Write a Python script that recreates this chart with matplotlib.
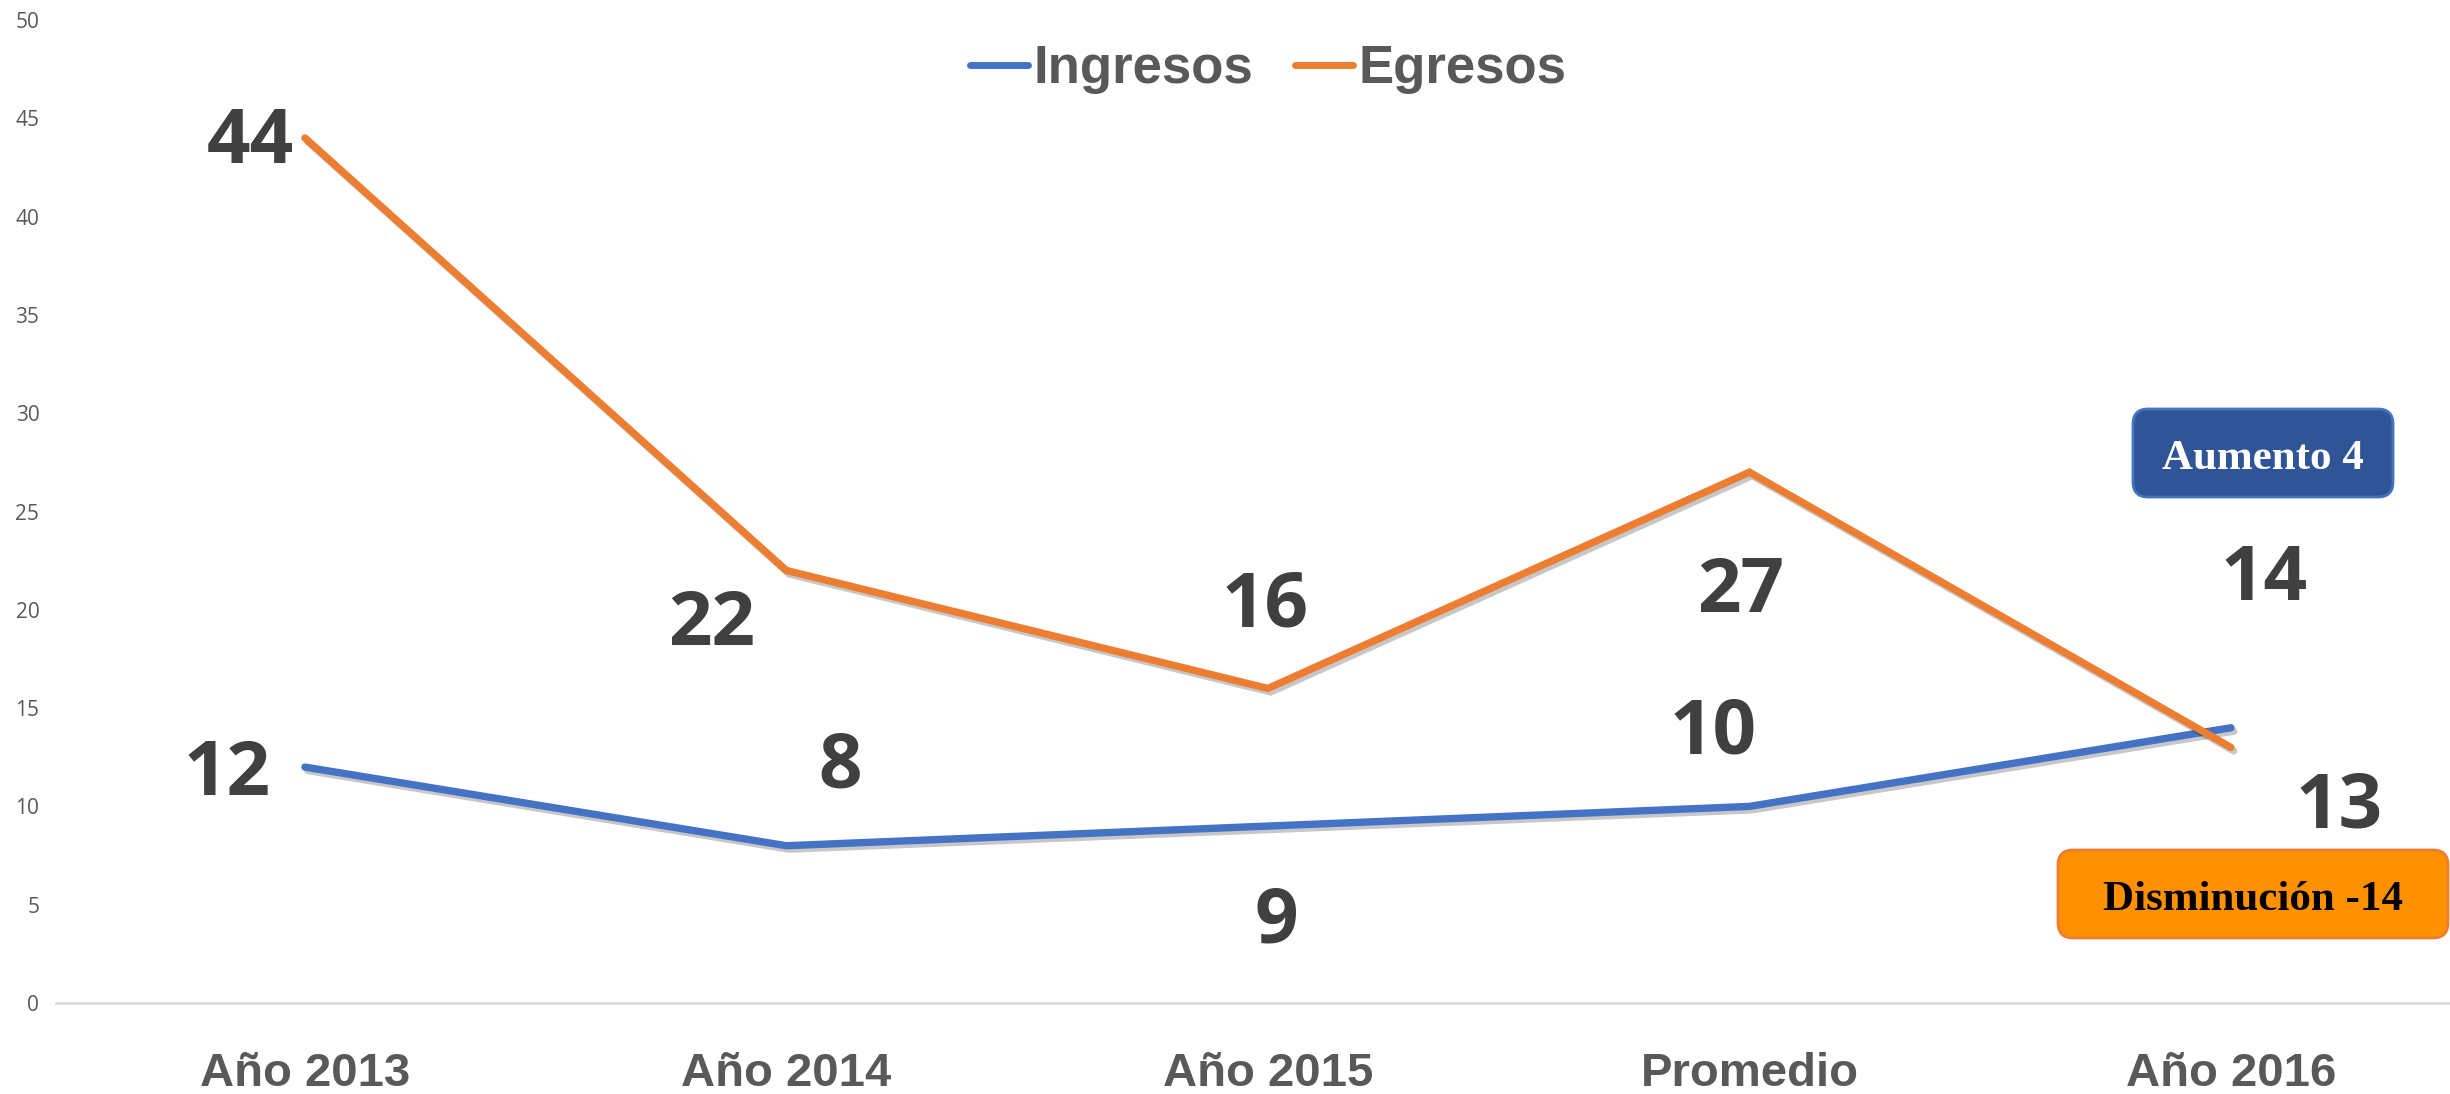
import matplotlib.pyplot as plt
import matplotlib.patheffects as pe
from matplotlib.lines import Line2D
from matplotlib.patches import FancyBboxPatch

categorias = ["Año 2013", "Año 2014", "Año 2015", "Promedio", "Año 2016"]
ingresos = [12, 8, 9, 10, 14]
egresos = [44, 22, 16, 27, 13]
y_ticks = [0, 5, 10, 15, 20, 25, 30, 35, 40, 45, 50]

# where Excel left each data label (pixels from the point)
off_ing = [(-78, -8), (54, 78), (8, -97), (-36, 72), (33, 147)]
off_egr = [(-55, -6), (-75, -55), (-3, 81), (-9, -120), (108, -61)]

AZUL = "#4472C4"
NARANJA = "#ED7D31"
GRIS = "#595959"
ETIQ = "#404040"

fig = plt.figure(figsize=(24.5, 10.94), dpi=100)
ax = fig.add_axes([56 / 2450, 1 - 1003 / 1094, (2450 - 56) / 2450, (1003 - 20) / 1094])

x = list(range(len(categorias)))
sombra = [pe.SimpleLineShadow(offset=(2, -2.5), shadow_color="black", alpha=0.22), pe.Normal()]
ax.plot(x, ingresos, color=AZUL, lw=5.3, solid_capstyle="round", solid_joinstyle="miter",
        path_effects=sombra, zorder=3)
ax.plot(x, egresos, color=NARANJA, lw=5.3, solid_capstyle="round", solid_joinstyle="miter",
        path_effects=sombra, zorder=3)

for serie, offs in ((ingresos, off_ing), (egresos, off_egr)):
    for i, v in enumerate(serie):
        ax.annotate(str(v), xy=(i, v), xytext=offs[i], textcoords="offset pixels",
                    ha="center", va="center", fontsize=55, fontweight="bold",
                    family="Open Sans", color=ETIQ)

ax.set_xlim(-0.517, 4.455)
ax.set_ylim(0, 50)
ax.set_xticks(x)
ax.set_xticklabels(categorias, fontsize=34, fontweight="bold", family="Liberation Sans", color=GRIS)
ax.set_yticks(y_ticks)
ax.set_yticklabels([str(t) for t in y_ticks], fontsize=15, family="Open Sans", color=GRIS)
ax.tick_params(axis="x", length=0, pad=35)
ax.tick_params(axis="y", length=0, pad=12)
for s in ("top", "right", "left"):
    ax.spines[s].set_visible(False)
ax.spines["bottom"].set_color("#D9D9D9")
ax.spines["bottom"].set_linewidth(1.8)

handles = [Line2D([], [], color=AZUL, lw=5, solid_capstyle="round"),
           Line2D([], [], color=NARANJA, lw=5, solid_capstyle="round")]
leg = fig.legend(handles, ["Ingresos", "Egresos"], loc="center", bbox_to_anchor=(1268 / 2450, 1 - 69 / 1094),
                 ncol=2, frameon=False, handlelength=1.1, handletextpad=0.1, columnspacing=0.8,
                 prop={"family": "Liberation Sans", "weight": "bold", "size": 38})
for t in leg.get_texts():
    t.set_color(GRIS)

# cuadros de texto (pulgadas desde abajo a la izquierda)
cajas = [
    ("Aumento 4", (21.33, 5.97, 2.60, 0.88), "#2F5597", AZUL, "white"),
    ("Disminución -14", (20.58, 1.56, 3.90, 0.88), "#FF9100", NARANJA, "black"),
]
for txt, (x0, y0, w, h), fondo, borde, color_txt in cajas:
    caja = FancyBboxPatch((x0, y0), w, h, boxstyle="round,pad=0,rounding_size=0.15",
                          transform=fig.dpi_scale_trans, facecolor=fondo, edgecolor=borde, lw=2)
    fig.patches.append(caja)
    fig.text(x0 + w / 2, y0 + h / 2 - 0.06, txt, transform=fig.dpi_scale_trans, ha="center", va="center",
             fontsize=31, fontweight="bold", family="Liberation Serif", color=color_txt)

fig.savefig("out.png", dpi=100)
